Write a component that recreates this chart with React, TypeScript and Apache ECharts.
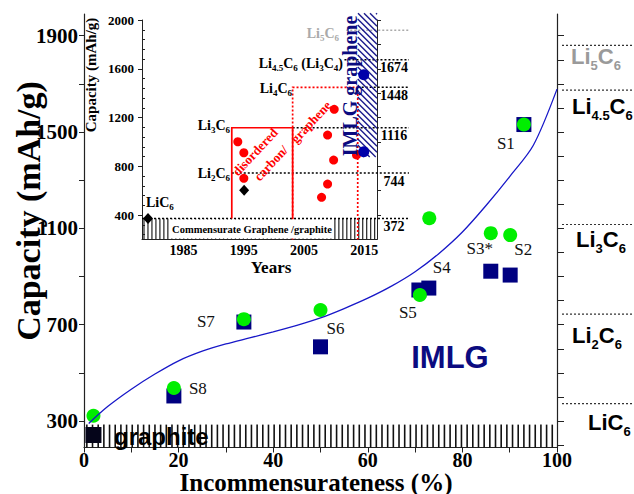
import React, { useEffect, useRef } from 'react';
import * as echarts from 'echarts';

const SERIF = '"Liberation Serif", "Times New Roman", serif';
const SANS = '"Liberation Sans", Arial, sans-serif';
const NAVY = '#000080';
const LIME = '#00ee00';
const RED = '#ff0000';

// ---------------- main chart data ----------------
const sampleNames = ['S1', 'S2', 'S3*', 'S4', 'S5', 'S6', 'S7', 'S8'];
const squareX = [93.0, 90.1, 86.0, 72.9, 70.8, 50.0, 33.8, 19.0];
const squareCap = [1531, 906, 922, 852, 844, 608, 711, 404];
const circleX = [93.0, 90.1, 86.0, 73.0, 71.0, 50.0, 33.8, 19.0, 2.0];
const circleCap = [1531, 1072, 1080, 1142, 823, 761, 723, 437, 322];
const graphiteX = [2.0];
const graphiteCap = [242];
const fitX = [1, 5, 10, 15, 20, 25, 30, 35, 40, 45, 50, 55, 60, 65, 70, 75, 80, 85, 90, 95, 100];
const fitCap = [290, 360, 432, 495, 550, 590, 620, 645, 670, 697, 728, 767, 810, 860, 920, 995, 1085, 1195, 1315, 1445, 1678];
const graphiteBandX = [0, 100];
const graphiteBandCap = [190, 285];

const yLabelValues = [300, 700, 1100, 1500, 1900];
const yTickValues = [300, 500, 700, 900, 1100, 1300, 1500, 1700, 1900];
const rightTickValues = [200, 300, 400, 500, 600, 700, 800, 900, 1000, 1100, 1200, 1300, 1400, 1500, 1600, 1700, 1800, 1900];

const levelLiSub = ['', '2', '3', '4.5', '5'];
const levelCap = [372, 744, 1116, 1674, 1860];

// ---------------- inset data ----------------
const insetYearTicks = [1985, 1995, 2005, 2015];
const insetCapTicks = [400, 800, 1200, 1600, 2000];
const insetRightTicks = [400, 600, 800, 1000, 1200, 1400, 1600, 1800, 2000];
const insetMinorTicks = [240, 320, 480, 560, 640, 720, 880, 960, 1040, 1120, 1280, 1360, 1440, 1520, 1680, 1760, 1840, 1920];
const redYear = [1994.0, 1995.0, 1995.0, 2010.0, 2008.9, 2009.9, 2008.9, 2007.9, 2013.7];
const redCap = [1001, 911, 701, 1267, 1056, 851, 654, 545, 893];
const blueYear = [2014.9, 2014.9];
const blueCap = [1551, 919];
const blackYear = [1995.05, 1979.1];
const blackCap = [603, 372];
const insetLevelCap = [372, 744, 1116, 1448, 1674, 1915];
const insetLevelStart = [1978.1, 1993.0, 2003.1, 2013.9, 2011.7, 2012.0];
const insetLevelEnd = [2022.4, 2022.4, 2022.4, 2022.4, 2022.4, 2022.4];
const insetLevelLabel = ['372', '744', '1116', '1448', '1674', ''];
const boxYearStart = [1993.0, 2003.1];
const boxYearEnd = [2003.1, 2013.9];
const boxCapBottom = [372, 200];
const boxCapTop = [1116, 1448];
const imlgYears = [2013.9, 2017.1];
const imlgCap = [876, 2055];
const commensurateYears = [1978.1, 2017.1];
const commensurateCap = [200, 372];

// ---------------- styles ----------------
const sLabelOffsets = [[-18, 19], [13, -26], [-11, -23], [13, -21], [-11, 23], [15, -18], [-38, -1], [24, -7]];
const levelLabelOffsets = [[26, 19], [10, 21], [14, 15], [10, 16.5], [9, 11]];
const levelColors = ['#000', '#000', '#000', '#000', '#9a9a9a'];
const boxDashed = [false, true];
const insetLevelColors = ['#000', '#000', '#000', '#000', '#000', '#aaa'];

const bigRich = (fill: string) => ({
  m: { fontFamily: SANS, fontWeight: 'bold', fontSize: 22, lineHeight: 24, fill },
  s: { fontFamily: SANS, fontWeight: 'bold', fontSize: 13, lineHeight: 14, padding: [18, 0, 0, 0], fill },
});
const smallRich = (fill: string) => ({
  m: { fontFamily: SERIF, fontWeight: 'bold', fontSize: 14, lineHeight: 16, fill },
  s: { fontFamily: SERIF, fontWeight: 'bold', fontSize: 9, lineHeight: 10, padding: [10, 0, 0, 0], fill },
});
const liText = (sub: string) => `{m|Li}${sub ? `{s|${sub}}` : ''}{m|C}{s|6}`;
const plain = (v: number) => String(v);

function stripeRender(step: number, width: number, color: string) {
  return (params: any, api: any) => {
    const x0 = api.value(0), x1 = api.value(1), v0 = api.value(2), v1 = api.value(3);
    const top = api.coord([x0, v1])[1];
    const bottom = api.coord([x0, v0])[1];
    const children: any[] = [];
    for (let x = x0 + step / 2; x < x1; x += step) {
      const px = api.coord([x, v0])[0];
      children.push({ type: 'rect', shape: { x: px - width / 2, y: top, width, height: bottom - top }, style: { fill: color } });
    }
    return { type: 'group', children };
  };
}

function hatchRender(params: any, api: any) {
  const a = api.coord([api.value(0), api.value(3)]);
  const b = api.coord([api.value(1), api.value(2)]);
  const x0 = a[0], y0 = a[1], x1 = b[0], y1 = b[1];
  const gap = 6;
  const children: any[] = [];
  for (let c = x0 - y1; c <= x1 - y0; c += gap) {
    const xa = Math.max(x0, y0 + c);
    const xb = Math.min(x1, y1 + c);
    if (xb > xa) {
      children.push({ type: 'line', shape: { x1: xa, y1: xa - c, x2: xb, y2: xb - c }, style: { stroke: '#1a1a8c', lineWidth: 1.4 } });
    }
  }
  return { type: 'group', children };
}

function boxRender(params: any, api: any) {
  const i = params.dataIndex;
  const x0 = api.value(0), x1 = api.value(1), vb = api.value(2), vt = api.value(3);
  const pts = [api.coord([x0, vb]), api.coord([x0, vt]), api.coord([x1, vt]), api.coord([x1, vb])];
  return {
    type: 'polyline',
    shape: { points: pts },
    style: { stroke: RED, lineWidth: 1.7, fill: null, lineDash: boxDashed[i] ? [2, 2] : null },
  };
}

function insetLineRender(params: any, api: any) {
  const i = params.dataIndex;
  const a = api.coord([api.value(0), api.value(2)]);
  const b = api.coord([api.value(1), api.value(2)]);
  const children: any[] = [
    { type: 'line', shape: { x1: a[0], y1: a[1], x2: b[0], y2: b[1] }, style: { stroke: insetLevelColors[i], lineWidth: 1.5, lineDash: [2, 2] } },
  ];
  if (insetLevelLabel[i]) {
    children.push({
      type: 'text', x: b[0] - 15, y: b[1] + 8,
      style: { text: insetLevelLabel[i], font: `bold 14px ${SERIF}`, fill: '#000', align: 'center', verticalAlign: 'middle' },
    });
  }
  return { type: 'group', children };
}

function levelRender(params: any, api: any) {
  const i = params.dataIndex;
  const a = api.coord([api.value(0), api.value(2)]);
  const b = api.coord([api.value(1), api.value(2)]);
  return {
    type: 'group',
    children: [
      { type: 'line', shape: { x1: a[0], y1: a[1], x2: b[0], y2: b[1] }, style: { stroke: '#333', lineWidth: 1.2, lineDash: [2, 2] } },
      {
        type: 'text', x: a[0] + levelLabelOffsets[i][0], y: a[1] + levelLabelOffsets[i][1],
        style: { text: liText(levelLiSub[i]), rich: bigRich(levelColors[i]), fill: levelColors[i], align: 'left', verticalAlign: 'middle' },
      },
    ],
  };
}

const axisLineStyle = { color: '#222', width: 1.2 };

const option: any = {
  animation: false,
  textStyle: { fontFamily: SERIF },
  grid: [
    { left: 84, right: 77, top: 14, bottom: 46.5 },
    { left: 142, right: 257, top: 20, bottom: 254.6 },
    { left: 562, right: 0, top: 14, bottom: 46.5 },
  ],
  xAxis: [
    {
      gridIndex: 0, type: 'value', min: 0, max: 100, interval: 10,
      axisLine: { show: true, onZero: false, lineStyle: axisLineStyle },
      axisTick: { show: true, length: 5, lineStyle: { color: '#222' } },
      axisLabel: { formatter: (v: number) => (v % 20 === 0 ? String(v) : ''), fontFamily: SERIF, fontWeight: 'bold', fontSize: 20, color: '#000', margin: 2 },
      splitLine: { show: false },
    },
    {
      gridIndex: 1, type: 'value', min: 1978.1, max: 2017.1,
      axisLine: { show: true, onZero: false, lineStyle: { color: '#222', width: 1 } },
      axisTick: { show: false },
      axisLabel: { customValues: insetYearTicks, formatter: plain, fontFamily: SERIF, fontWeight: 'bold', fontSize: 14, color: '#000', margin: 4 },
      splitLine: { show: false },
    },
    { gridIndex: 2, type: 'value', min: 0, max: 1, show: false },
  ],
  yAxis: [
    {
      gridIndex: 0, type: 'value', min: 190, max: 1990, position: 'left',
      axisLine: { show: true, onZero: false, lineStyle: axisLineStyle },
      axisTick: { show: true, customValues: yTickValues, length: 5, lineStyle: { color: '#222' } },
      axisLabel: { customValues: yLabelValues, formatter: plain, fontFamily: SERIF, fontWeight: 'bold', fontSize: 21, color: '#000', margin: 6 },
      splitLine: { show: false },
    },
    {
      gridIndex: 0, type: 'value', min: 190, max: 1990, position: 'right',
      axisLine: { show: true, onZero: false, lineStyle: axisLineStyle },
      axisTick: { show: true, customValues: rightTickValues, length: 7, lineStyle: { color: '#222' } },
      axisLabel: { show: false },
      splitLine: { show: false },
    },
    {
      gridIndex: 1, type: 'value', min: 200, max: 2000, position: 'left',
      axisLine: { show: true, onZero: false, lineStyle: { color: '#222', width: 1 } },
      axisTick: { show: true, customValues: insetCapTicks, length: 4, lineStyle: { color: '#222' } },
      axisLabel: { customValues: insetCapTicks, formatter: plain, fontFamily: SERIF, fontWeight: 'bold', fontSize: 13, color: '#000', margin: 8 },
      splitLine: { show: false },
    },
    {
      gridIndex: 1, type: 'value', min: 200, max: 2000, position: 'left',
      axisLine: { show: false },
      axisTick: { show: true, inside: true, customValues: insetMinorTicks, length: 3, lineStyle: { color: '#222' } },
      axisLabel: { show: false },
      splitLine: { show: false },
    },
    {
      gridIndex: 1, type: 'value', min: 200, max: 2000, position: 'right',
      axisLine: { show: true, onZero: false, lineStyle: { color: '#222', width: 1 } },
      axisTick: { show: true, customValues: insetRightTicks, length: 4, lineStyle: { color: '#222' } },
      axisLabel: { show: false },
      splitLine: { show: false },
    },
    { gridIndex: 2, type: 'value', min: 190, max: 1990, show: false },
  ],
  series: [
    {
      type: 'custom', xAxisIndex: 0, yAxisIndex: 0, silent: true, clip: false,
      renderItem: stripeRender(1.2, 1.6, '#111'),
      encode: { x: [0, 1], y: [2, 3] },
      data: [[graphiteBandX[0], graphiteBandX[1], graphiteBandCap[0], graphiteBandCap[1]]],
    },
    {
      type: 'line', xAxisIndex: 0, yAxisIndex: 0, smooth: 0.3, showSymbol: false, silent: true,
      lineStyle: { color: '#1818c8', width: 1.3 },
      data: fitX.map((x, i) => [x, fitCap[i]]),
    },
    {
      type: 'scatter', xAxisIndex: 0, yAxisIndex: 0, symbol: 'rect', symbolSize: 15,
      itemStyle: { color: NAVY, opacity: 1 },
      label: { show: true, position: 'inside', fontFamily: SERIF, fontSize: 17, color: '#111', formatter: (p: any) => p.name },
      data: squareX.map((x, i) => ({ value: [x, squareCap[i]], name: sampleNames[i], label: { offset: sLabelOffsets[i] } })),
    },
    {
      type: 'scatter', xAxisIndex: 0, yAxisIndex: 0, symbol: 'rect', symbolSize: 16,
      itemStyle: { color: '#05051a', opacity: 1 },
      data: graphiteX.map((x, i) => [x, graphiteCap[i]]),
    },
    {
      type: 'scatter', xAxisIndex: 0, yAxisIndex: 0, symbol: 'circle', symbolSize: 14,
      itemStyle: { color: LIME, opacity: 1 },
      data: circleX.map((x, i) => [x, circleCap[i]]),
    },
    {
      type: 'custom', xAxisIndex: 2, yAxisIndex: 5, silent: true, clip: false,
      renderItem: levelRender,
      encode: { x: [0, 1], y: 2 },
      data: levelCap.map((v) => [0, 1, v]),
    },
    {
      type: 'custom', xAxisIndex: 1, yAxisIndex: 2, silent: true, clip: false,
      renderItem: stripeRender(0.66, 1.2, '#222'),
      encode: { x: [0, 1], y: [2, 3] },
      data: [[commensurateYears[0], commensurateYears[1], commensurateCap[0], commensurateCap[1]]],
    },
    {
      type: 'custom', xAxisIndex: 1, yAxisIndex: 2, silent: true, clip: false,
      renderItem: insetLineRender,
      encode: { x: [0, 1], y: 2 },
      data: insetLevelCap.map((v, i) => [insetLevelStart[i], insetLevelEnd[i], v]),
    },
    {
      type: 'custom', xAxisIndex: 1, yAxisIndex: 2, silent: true, clip: false,
      renderItem: boxRender,
      encode: { x: [0, 1], y: [2, 3] },
      data: boxYearStart.map((x, i) => [x, boxYearEnd[i], boxCapBottom[i], boxCapTop[i]]),
    },
    {
      type: 'scatter', xAxisIndex: 1, yAxisIndex: 2, symbol: 'circle', symbolSize: 9,
      itemStyle: { color: RED, opacity: 1 },
      data: redYear.map((x, i) => [x, redCap[i]]),
    },
    {
      type: 'custom', xAxisIndex: 1, yAxisIndex: 2, silent: true, clip: false,
      renderItem: hatchRender,
      encode: { x: [0, 1], y: [2, 3] },
      data: [[imlgYears[0], imlgYears[1], imlgCap[0], imlgCap[1]]],
    },
    {
      type: 'scatter', xAxisIndex: 1, yAxisIndex: 2, symbol: 'circle', symbolSize: 11,
      itemStyle: { color: '#0000aa', opacity: 1 },
      data: blueYear.map((x, i) => [x, blueCap[i]]),
    },
    {
      type: 'scatter', xAxisIndex: 1, yAxisIndex: 2, symbol: 'diamond', symbolSize: [10, 11],
      itemStyle: { color: '#000', opacity: 1 },
      data: blackYear.map((x, i) => [x, blackCap[i]]),
    },
  ],
  graphic: [
    { type: 'text', x: 28, y: 211, rotation: Math.PI / 2, z: 100, style: { text: 'Capacity (mAh/g)', font: `bold 34px ${SERIF}`, fill: '#000', align: 'center', verticalAlign: 'middle' } },
    { type: 'text', x: 316, y: 482, z: 100, style: { text: 'Incommensurateness (%)', font: `bold 25px ${SERIF}`, fill: '#000', align: 'center', verticalAlign: 'middle' } },
    { type: 'text', x: 450, y: 357, z: 100, style: { text: 'IMLG', font: `bold 31px ${SANS}`, fill: '#0b0b80', align: 'center', verticalAlign: 'middle' } },
    { type: 'text', x: 114, y: 436, z: 100, style: { text: 'graphite', font: `bold 24px ${SANS}`, fill: '#000', align: 'left', verticalAlign: 'middle' } },
    { type: 'text', x: 91, y: 75, rotation: Math.PI / 2, z: 100, style: { text: 'Capacity (mAh/g)', font: `bold 15px ${SERIF}`, fill: '#000', align: 'center', verticalAlign: 'middle' } },
    { type: 'text', x: 271, y: 267, z: 100, style: { text: 'Years', font: `bold 17px ${SERIF}`, fill: '#000', align: 'center', verticalAlign: 'middle' } },
    { type: 'rect', z: 100, shape: { x: 170, y: 219.5, width: 164, height: 19 }, style: { fill: '#fff' } },
    { type: 'text', x: 252, y: 229, z: 101, style: { text: 'Commensurate Graphene /graphite', font: `bold 10.5px ${SERIF}`, fill: '#000', align: 'center', verticalAlign: 'middle' } },
    { type: 'text', x: 255, y: 152, rotation: 47 * Math.PI / 180, z: 100, style: { text: 'disordered', font: `bold 13px ${SERIF}`, fill: RED, align: 'center', verticalAlign: 'middle' } },
    { type: 'text', x: 271, y: 163, rotation: 47 * Math.PI / 180, z: 100, style: { text: 'carbon/', font: `bold 13px ${SERIF}`, fill: RED, align: 'center', verticalAlign: 'middle' } },
    { type: 'text', x: 311, y: 122, rotation: 47 * Math.PI / 180, z: 100, style: { text: 'graphene', font: `bold 13px ${SERIF}`, fill: RED, align: 'center', verticalAlign: 'middle' } },
    { type: 'text', x: 350, y: 86, rotation: Math.PI / 2, z: 100, style: { text: 'IMLG graphene', font: `bold 20px ${SERIF}`, fill: '#0b0b80', align: 'center', verticalAlign: 'middle' } },
    { type: 'text', x: 339, y: 33, z: 100, style: { text: liText('5'), rich: smallRich('#aaa'), fill: '#aaa', align: 'right', verticalAlign: 'middle' } },
    { type: 'text', x: 343, y: 63, z: 100, style: { text: `${liText('4.5')}{m| (Li}{s|3}{m|C}{s|4}{m|)}`, rich: smallRich('#000'), fill: '#000', align: 'right', verticalAlign: 'middle' } },
    { type: 'text', x: 292, y: 88, z: 100, style: { text: liText('4'), rich: smallRich('#000'), fill: '#000', align: 'right', verticalAlign: 'middle' } },
    { type: 'text', x: 230, y: 125, z: 100, style: { text: liText('3'), rich: smallRich('#000'), fill: '#000', align: 'right', verticalAlign: 'middle' } },
    { type: 'text', x: 230, y: 173, z: 100, style: { text: liText('2'), rich: smallRich('#000'), fill: '#000', align: 'right', verticalAlign: 'middle' } },
    { type: 'text', x: 146, y: 202, z: 100, style: { text: liText(''), rich: smallRich('#000'), fill: '#000', align: 'left', verticalAlign: 'middle' } },
  ],
};

export default function App() {
  const ref = useRef<HTMLDivElement>(null);
  useEffect(() => {
    const chart = echarts.init(ref.current as HTMLDivElement, null, { renderer: 'svg' });
    chart.setOption(option);
    return () => chart.dispose();
  }, []);
  return <div ref={ref} style={{ position: 'absolute', left: 0, top: 0, width: 634, height: 494, background: '#fff' }} />;
}
